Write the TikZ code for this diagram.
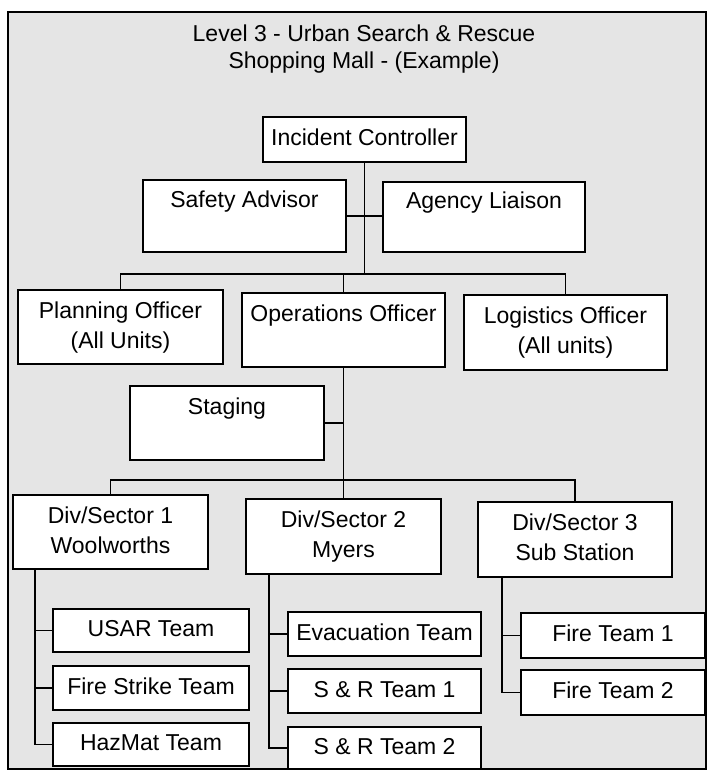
\documentclass[tikz,border=0pt]{standalone}
\usepackage{fontspec}
\setmainfont{Liberation Sans}
\newcommand\bxstrut{\rule[-6pt]{0pt}{24pt}}
\begin{document}
\begin{tikzpicture}[x=1pt,y=-1pt,
  box/.style={draw=black, line width=1.8pt, fill=white, inner sep=0pt, align=center,
              font=\fontsize{23}{30}\selectfont},
  link/.style={line width=1.8pt, line cap=rect},
  titletext/.style={align=center, font=\fontsize{23}{27}\selectfont, inner sep=0pt}]
\useasboundingbox (0,0) rectangle (707,771);
\fill[white] (0,0) rectangle (707,771);
\draw[line width=1.8pt, fill=black!10] (8,12) rectangle (706,769);

\node[titletext] (title) at (364,49) {Level 3 - Urban Search \& Rescue\\Shopping Mall - (Example)};

\node[box, minimum width=203pt, minimum height=45pt] (ic) at (364.5,139.5) {\bxstrut Incident Controller};
\node[box, minimum width=203pt, minimum height=72pt] (safety) at (244.5,216) {\bxstrut Safety Advisor\\\bxstrut};
\node[box, minimum width=202pt, minimum height=70pt] (agency) at (484,217) {\bxstrut Agency Liaison\\\bxstrut};

\node[box, minimum width=205pt, minimum height=74pt] (plan) at (120.5,327) {\bxstrut Planning Officer\\\bxstrut (All Units)};
\node[box, minimum width=203pt, minimum height=74pt] (ops) at (343.5,330) {\bxstrut Operations Officer\\\bxstrut};
\node[box, minimum width=203pt, minimum height=75pt] (logi) at (565.5,332.5) {\bxstrut Logistics Officer\\\bxstrut (All units)};

\node[box, minimum width=194pt, minimum height=74pt] (staging) at (227,423) {\bxstrut Staging\\\bxstrut};

\node[box, minimum width=195pt, minimum height=74pt] (div1) at (110.5,532) {\bxstrut Div/Sector 1\\\bxstrut Woolworths};
\node[box, minimum width=195pt, minimum height=75pt] (div2) at (343.5,536.5) {\bxstrut Div/Sector 2\\\bxstrut Myers};
\node[box, minimum width=194pt, minimum height=75pt] (div3) at (575,539.5) {\bxstrut Div/Sector 3\\\bxstrut Sub Station};

\node[box, minimum width=196pt, minimum height=43pt] (usar) at (151,630.5) {\bxstrut USAR Team};
\node[box, minimum width=196pt, minimum height=44pt] (fst) at (151,688) {\bxstrut Fire Strike Team};
\node[box, minimum width=196pt, minimum height=43pt] (hazmat) at (151,744.5) {\bxstrut HazMat Team};

\node[box, minimum width=193pt, minimum height=44pt] (evac) at (384.5,634) {\bxstrut Evacuation Team};
\node[box, minimum width=193pt, minimum height=44pt] (sr1) at (384.5,691) {\bxstrut S \& R Team 1};
\node[box, minimum width=193pt, minimum height=42pt] (sr2) at (384.5,748) {\bxstrut S \& R Team 2};

\node[box, minimum width=184pt, minimum height=45pt] (ft1) at (613,635.5) {\bxstrut Fire Team 1};
\node[box, minimum width=184pt, minimum height=45pt] (ft2) at (613,692.5) {\bxstrut Fire Team 2};

\coordinate (barL) at (0,274);
\coordinate (divbar) at (0,480);
\coordinate (t1) at (35,0);
\coordinate (t2) at (269,0);
\coordinate (t3) at (502,0);

\draw[link] (ic.south) -- (ic.south |- barL);
\draw[link] (safety.east) -- (safety.east -| agency.west);
\draw[link] (plan.north) -- (plan.north |- barL) -- (logi.north |- barL) -- (logi.north);
\draw[link] (ops.north) -- (ops.north |- barL);
\draw[link] (ops.south) -- (div2.north);
\draw[link] (staging.east) -- (staging.east -| ops.south);
\draw[link] (div1.north) -- (div1.north |- divbar) -- (div3.north |- divbar) -- (div3.north);

\draw[link] (div1.south -| t1) -- (hazmat.west -| t1) -- (hazmat.west);
\draw[link] (usar.west -| t1) -- (usar.west);
\draw[link] (fst.west -| t1) -- (fst.west);

\draw[link] (div2.south -| t2) -- (sr2.west -| t2) -- (sr2.west);
\draw[link] (evac.west -| t2) -- (evac.west);
\draw[link] (sr1.west -| t2) -- (sr1.west);

\draw[link] (div3.south -| t3) -- (ft2.west -| t3) -- (ft2.west);
\draw[link] (ft1.west -| t3) -- (ft1.west);
\end{tikzpicture}
\end{document}
